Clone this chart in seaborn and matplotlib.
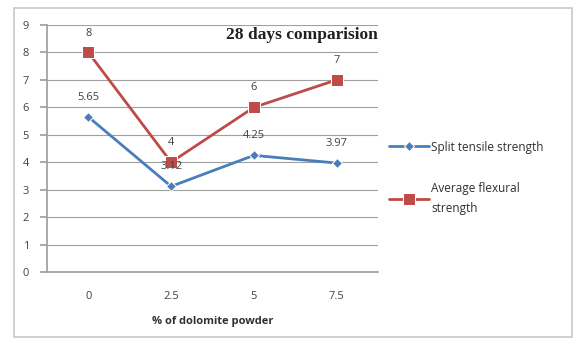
import matplotlib
matplotlib.use("Agg")
import matplotlib.pyplot as plt
import seaborn as sns
import pandas as pd
from matplotlib.patches import Rectangle

categories = ["0", "2.5", "5", "7.5"]
split_tensile = [5.65, 3.12, 4.25, 3.97]
flexural = [8, 4, 6, 7]
series_names = ["Split tensile strength", "Average flexural\nstrength"]
y_ticks = list(range(0, 10))

sns.set_theme(style="white")
plt.rcParams['font.family'] = ['Open Sans', 'DejaVu Sans']

fig = plt.figure(figsize=(5.79, 3.39), dpi=100)
fig.patch.set_facecolor("white")
# outer chart frame
fig.patches.append(Rectangle((14/579, 2/339), (572-14)/579, (339-8-2)/339,
                             transform=fig.transFigure, fill=False,
                             edgecolor="#c8c8c8", linewidth=1.2))

ax = fig.add_axes([47/579, 1 - 272/339, (378-47)/579, (272-25)/339])

df = pd.DataFrame({
    "x": list(range(len(categories))) * 2,
    "value": split_tensile + flexural,
    "series": [series_names[0]] * 4 + [series_names[1]] * 4,
})
colors = {series_names[0]: "#4A7EBB", series_names[1]: "#BE4B48"}
sns.lineplot(data=df, x="x", y="value", hue="series", style="series",
             markers={series_names[0]: "D", series_names[1]: "s"}, dashes=False,
             palette=colors, linewidth=2, ax=ax)
for line, mk in zip(ax.lines, [5, 8]):
    line.set_markersize(mk)

# data labels
for i, v in enumerate(split_tensile):
    ax.annotate(f"{v:g}", (i, v), textcoords="offset points", xytext=(0, 10),
                ha="center", va="bottom", fontsize=8, color="#404040")
for i, v in enumerate(flexural):
    ax.annotate(f"{v:g}", (i, v), textcoords="offset points", xytext=(0, 10),
                ha="center", va="bottom", fontsize=8, color="#404040")

ax.set_xlim(-0.5, len(categories) - 0.5)
ax.set_ylim(0, 9)
ax.set_yticks(y_ticks)
ax.set_xticks(range(len(categories)))
ax.set_xticklabels(categories, fontsize=8, color="#404040")
ax.set_yticklabels([str(t) for t in y_ticks], fontsize=8, color="#404040")
ax.grid(axis="y", color="#a0a0a0", linewidth=0.8)
for s in ["top", "right"]:
    ax.spines[s].set_visible(False)
ax.spines["left"].set_color("#a0a0a0")
ax.spines["bottom"].set_color("#a0a0a0")
ax.tick_params(axis="y", length=5, color="#a0a0a0", pad=8, direction="out", left=True)
ax.tick_params(axis="x", length=0, pad=14)
ax.set_xlabel("% of dolomite powder", fontsize=8, fontweight="bold", color="#303030", labelpad=10)
ax.set_ylabel("")

ax.text(1.0, 0.99, "28 days comparision", transform=ax.transAxes, ha="right", va="top",
        fontsize=12.5, fontweight="bold", family=["Liberation Serif", "DejaVu Serif"], color="#202020")

leg = ax.legend(loc="upper left", bbox_to_anchor=(1.0, 0.575), frameon=False,
                fontsize=8.5, handlelength=3.4, handletextpad=0.2, labelspacing=2.4)
for t in leg.get_texts():
    t.set_color("#303030")
    t.set_linespacing(1.7)
for h, mk in zip(leg.legend_handles, [5, 8]):
    h.set_linewidth(2)
    h.set_markersize(mk)

fig.savefig("out.png", dpi=100)
